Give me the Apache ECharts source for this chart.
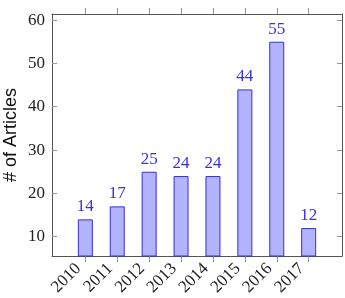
<!DOCTYPE html>
<html>
<head>
<meta charset="UTF-8">
<title>Articles per year</title>
<script src="https://cdn.jsdelivr.net/npm/echarts@6/dist/echarts.min.js"></script>
<style>
  html, body { margin: 0; padding: 0; background: #fff; }
</style>
</head>
<body>
<div id="main" style="width: 345px; height: 298px;"></div>
<script type="text/javascript">
// data
var years = [2010, 2011, 2012, 2013, 2014, 2015, 2016, 2017];
var articles = [14, 17, 25, 24, 24, 44, 55, 12];
var yTicks = [10, 20, 30, 40, 50, 60];

var serif = "'Liberation Serif', 'DejaVu Serif', serif";
var frameColor = '#555';
var tickColor = '#999';

var barData = [];
for (var i = 0; i < years.length; i++) {
  barData.push([years[i], articles[i]]);
}

var myChart = echarts.init(document.getElementById('main'));

var option = {
  animation: false,
  grid: { left: 52, right: 3, top: 14, bottom: 42, outerBoundsMode: 'none', containLabel: false },
  xAxis: [{
    type: 'value',
    position: 'bottom',
    min: 2008.955,
    max: 2018.045,
    splitLine: { show: false },
    axisLine: { show: true, lineStyle: { color: frameColor, width: 1 } },
    axisTick: { show: true, inside: false, length: 6, customValues: years, lineStyle: { color: tickColor } },
    axisLabel: {
      customValues: years,
      rotate: 45,
      margin: 3,
      padding: [0, 10, 0, 0],
      fontFamily: serif,
      fontSize: 17,
      color: '#222',
      formatter: function (v) { return String(v); }
    }
  }, {
    type: 'value',
    position: 'top',
    min: 2008.955,
    max: 2018.045,
    splitLine: { show: false },
    axisLine: { show: true, lineStyle: { color: frameColor, width: 1 } },
    axisTick: { show: true, inside: false, length: 6, customValues: years, lineStyle: { color: tickColor } },
    axisLabel: { show: false }
  }],
  yAxis: [{
    type: 'value',
    position: 'left',
    min: 5.55,
    max: 61.4,
    name: '# of Articles',
    nameLocation: 'middle',
    nameGap: 32,
    nameMoveOverlap: false,
    nameTextStyle: { fontFamily: "'Liberation Sans', Arial, sans-serif", fontSize: 18, color: '#111' },
    splitLine: { show: false },
    axisLine: { show: true, lineStyle: { color: frameColor, width: 1 } },
    axisTick: { show: true, inside: true, length: 5, customValues: yTicks, lineStyle: { color: tickColor } },
    axisLabel: {
      customValues: yTicks,
      margin: 7,
      fontFamily: serif,
      fontSize: 17,
      color: '#222'
    }
  }, {
    type: 'value',
    position: 'right',
    min: 5.55,
    max: 61.4,
    splitLine: { show: false },
    axisLine: { show: true, lineStyle: { color: frameColor, width: 1 } },
    axisTick: { show: true, inside: true, length: 5, customValues: yTicks, lineStyle: { color: tickColor } },
    axisLabel: { show: false }
  }],
  series: [{
    type: 'bar',
    xAxisIndex: 0,
    yAxisIndex: 0,
    barWidth: 15,
    data: barData,
    itemStyle: { color: '#b3b3ff', borderColor: '#3333cc', borderWidth: 1 },
    label: {
      show: true,
      position: 'top',
      distance: 4,
      fontFamily: serif,
      fontSize: 17,
      color: '#3434d6',
      formatter: function (p) { return p.value[1]; }
    }
  }]
};

myChart.setOption(option);
</script>
</body>
</html>
